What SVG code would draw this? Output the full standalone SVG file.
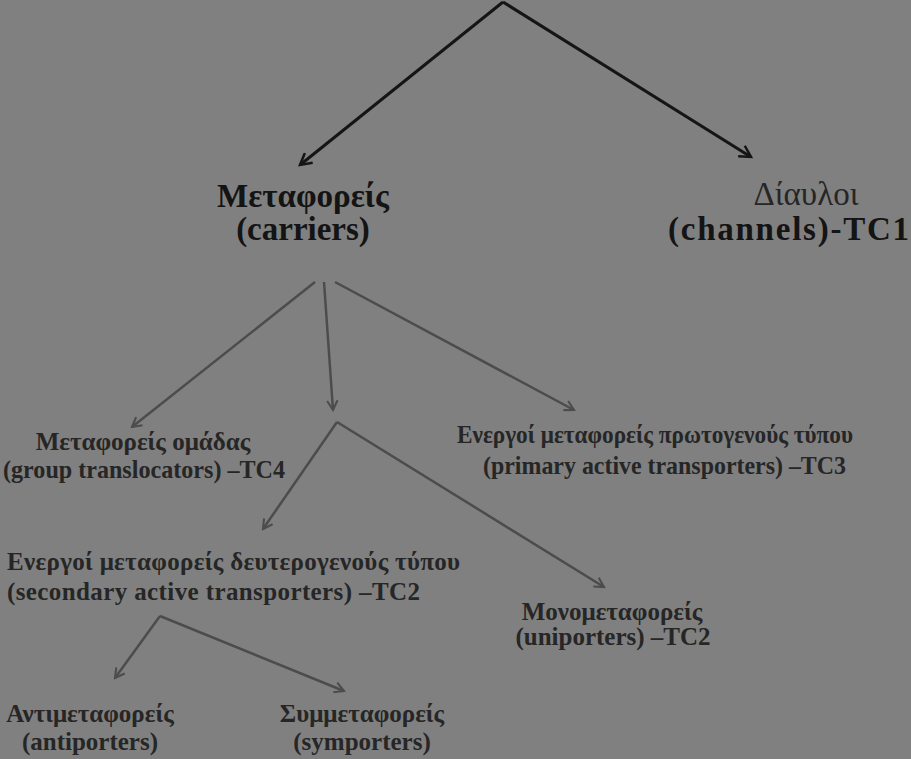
<svg xmlns="http://www.w3.org/2000/svg" width="911" height="759" viewBox="0 0 911 759">
<defs>
<style>
text{font-family:"Liberation Serif","Times New Roman",serif;}
.t{font-weight:bold;text-anchor:middle;}
.big{font-size:33px;fill:#141414;}
.mid{font-size:25px;fill:#262626;}
.top{fill:none;stroke:#151515;stroke-width:3;}
.sub{fill:none;stroke:#4c4c4c;stroke-width:2.5;}
</style>
<marker id="ahTop" viewBox="0 0 12 12" refX="10" refY="6" markerWidth="5" markerHeight="5" orient="auto" markerUnits="strokeWidth">
<path d="M1,1 L10,6 L1,11" fill="none" stroke="#151515" stroke-width="2"/>
</marker>
<marker id="ahSub" viewBox="0 0 12 12" refX="10" refY="6" markerWidth="5" markerHeight="5" orient="auto" markerUnits="strokeWidth">
<path d="M1,1 L10,6 L1,11" fill="none" stroke="#4c4c4c" stroke-width="2"/>
</marker>
</defs>
<rect width="911" height="759" fill="#808080"/>
<g id="connectors">
<path class="top" d="M503,2 L300,165" marker-end="url(#ahTop)"/>
<path class="top" d="M503,2 L751,157" marker-end="url(#ahTop)"/>
<path class="sub" d="M315,282 L132,427" marker-end="url(#ahSub)"/>
<path class="sub" d="M324,282 L333,410" stroke-width="3" marker-end="url(#ahSub)"/>
<path class="sub" d="M335,282 L574,410" marker-end="url(#ahSub)"/>
<path class="sub" d="M337,422 L263,529" marker-end="url(#ahSub)"/>
<path class="sub" d="M337,422 L604,587" marker-end="url(#ahSub)"/>
<path class="sub" d="M160,616 L115,678" marker-end="url(#ahSub)"/>
<path class="sub" d="M160,616 L344,691" marker-end="url(#ahSub)"/>
</g>
<g id="carriers">
<text class="t big" x="303" y="207">Μεταφορείς</text>
<text class="t big" x="303" y="240">(carriers)</text>
</g>
<g id="channels">
<text x="806" y="205" font-size="33" fill="#262626" text-anchor="middle">Δίαυλοι</text>
<text x="668" y="240" font-size="33" font-weight="bold" fill="#141414" textLength="241" lengthAdjust="spacing">(channels)-TC1</text>
</g>
<g id="group-translocators">
<text class="t mid" x="143" y="450">Μεταφορείς ομάδας</text>
<text class="mid" x="3" y="478" font-weight="bold" textLength="282" lengthAdjust="spacingAndGlyphs">(group translocators) –TC4</text>
</g>
<g id="primary-active">
<text class="mid" x="457" y="443" font-weight="bold" textLength="396" lengthAdjust="spacingAndGlyphs">Ενεργοί μεταφορείς πρωτογενούς τύπου</text>
<text class="mid" x="483" y="474" font-weight="bold" textLength="363" lengthAdjust="spacingAndGlyphs">(primary active transporters) –TC3</text>
</g>
<g id="secondary-active">
<text class="mid" x="7" y="570" font-weight="bold" textLength="453" lengthAdjust="spacing">Ενεργοί μεταφορείς δευτερογενούς τύπου</text>
<text class="mid" x="7" y="600" font-weight="bold" textLength="413" lengthAdjust="spacing">(secondary active transporters) –TC2</text>
</g>
<g id="uniporters">
<text class="t mid" x="612" y="620">Μονομεταφορείς</text>
<text class="t mid" x="613" y="645">(uniporters) –TC2</text>
</g>
<g id="antiporters">
<text class="t mid" x="90" y="722">Αντιμεταφορείς</text>
<text class="t mid" x="90" y="750">(antiporters)</text>
</g>
<g id="symporters">
<text class="t mid" x="362" y="722">Συμμεταφορείς</text>
<text class="t mid" x="362" y="750">(symporters)</text>
</g>
</svg>
